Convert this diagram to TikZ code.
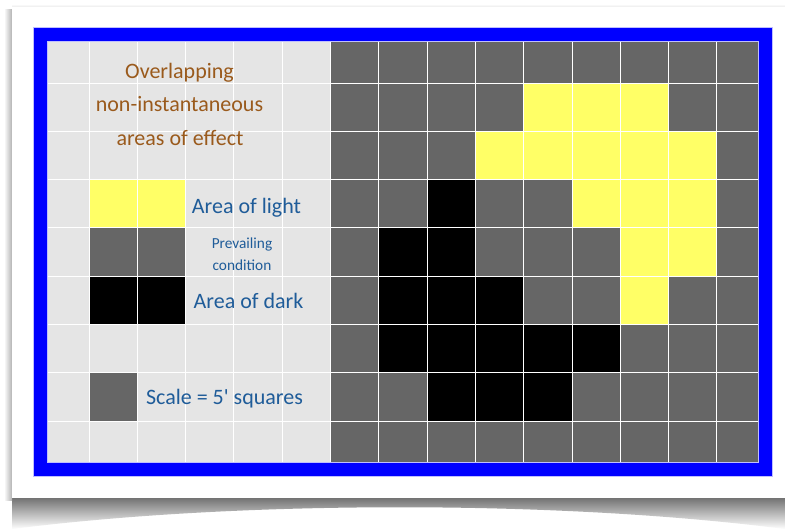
\documentclass[tikz,border=0pt]{standalone}
\usepackage{fontspec}
\setmainfont{Carlito}
\definecolor{lightcell}{HTML}{E5E5E5}
\definecolor{darkcell}{HTML}{666666}
\definecolor{lightcol}{HTML}{FFFF66}
\definecolor{bordercol}{HTML}{0000FF}
\definecolor{titlecol}{HTML}{9A5A1C}
\definecolor{labelcol}{HTML}{1F5C99}
\begin{document}
\begin{tikzpicture}[x=0.75pt,y=-0.75pt,
  gridline/.style={white, line width=0.75pt},
  titletext/.style={anchor=base, inner sep=0pt, text=titlecol, font=\fontsize{16.5}{20}\selectfont},
  labeltext/.style={anchor=base, inner sep=0pt, text=labelcol, font=\fontsize{16.5}{20}\selectfont},
  smalltext/.style={anchor=base, inner sep=0pt, text=labelcol, font=\fontsize{11.5}{14}\selectfont}]
\useasboundingbox (0,0) rectangle (785,529);
\fill[white] (0,0) rectangle (785,529);
% shadows of the frame
\shade[top color=black!55, bottom color=white] (12,498) -- (785,498) -- (785,529) .. controls (560,500) and (240,500) .. (12,529) -- cycle;
\shade[left color=white, right color=black!30] (4,9) rectangle (12,500);
\shade[top color=white, bottom color=black!8] (12,4) rectangle (785,7);
\fill[white] (12,7) rectangle (785,498);
% grid background
\fill[lightcell] (40.7,34.7) rectangle (330.5,469.4);
\fill[darkcell] (330.5,34.7) rectangle (765.2,469.4);
% yellow cells
\foreach \c/\r in {10/1,11/1,12/1, 9/2,10/2,11/2,12/2,13/2, 11/3,12/3,13/3, 12/4,13/4, 12/5, 1/3,2/3}
  \fill[lightcol] ({40.7+48.3*\c},{34.7+48.3*\r}) rectangle ++(48.3,48.3);
% black cells
\foreach \c/\r in {8/3, 7/4,8/4, 7/5,8/5,9/5, 7/6,8/6,9/6,10/6,11/6, 8/7,9/7,10/7, 1/5,2/5}
  \fill[black] ({40.7+48.3*\c},{34.7+48.3*\r}) rectangle ++(48.3,48.3);
% dark legend cells
\foreach \c/\r in {1/4,2/4,1/7}
  \fill[darkcell] ({40.7+48.3*\c},{34.7+48.3*\r}) rectangle ++(48.3,48.3);
% grid lines
\foreach \k in {1,...,14}
  \draw[gridline] ({40.7+48.3*\k},34.7) -- ++(0,434.7);
\foreach \k in {1,...,8}
  \draw[gridline] (40.7,{34.7+48.3*\k}) -- ++(724.5,0);
% blue border
\draw[bordercol!25, line width=11pt] (40.7,34.7) rectangle (765.2,469.4);
\draw[bordercol, line width=9.75pt] (40.7,34.7) rectangle (765.2,469.4);
% texts
\node[titletext] (t1) at (179.5,78) {Overlapping};
\node[titletext] (t2) at (179.5,111.5) {non-instantaneous};
\node[titletext] (t3) at (180,145) {areas of effect};
\node[labeltext] (light) at (246.5,213) {Area of light};
\node[smalltext] (prev1) at (242,248) {Prevailing};
\node[smalltext] (prev2) at (242,270) {condition};
\node[labeltext] (dark) at (248.5,308) {Area of dark};
\node[labeltext] (scale) at (224.5,404) {Scale = 5\textquotesingle{} squares};
\end{tikzpicture}
\end{document}
